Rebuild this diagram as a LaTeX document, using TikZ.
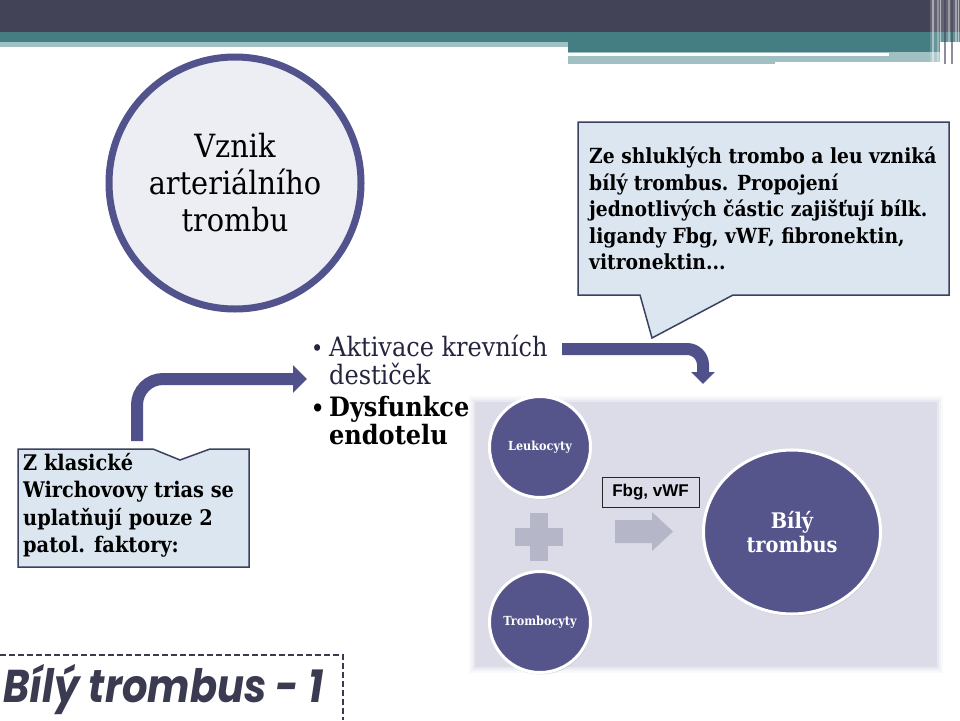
\documentclass[tikz,border=0pt]{standalone}
\usepackage{fontspec}
\setmainfont{DejaVu Serif Condensed}
\newfontfamily\geo{DejaVu Serif Condensed}
\newfontfamily\arialf{Liberation Sans}
\newfontfamily\titlef{Poppins}[FakeStretch=0.87]
\usetikzlibrary{shapes.geometric,arrows.meta,shadows}
\definecolor{hdark}{HTML}{424357}
\definecolor{hteal}{HTML}{447E82}
\definecolor{hlight}{HTML}{A0C0C4}
\definecolor{ringc}{HTML}{52528C}
\definecolor{circfill}{HTML}{EDEDF4}
\definecolor{callfill}{HTML}{DCE6F0}
\definecolor{callline}{HTML}{3B4160}
\definecolor{arrc}{HTML}{50508A}
\definecolor{panelc}{HTML}{DCDCE8}
\definecolor{nodec}{HTML}{55558C}
\definecolor{grayb}{HTML}{B6B6C9}
\definecolor{navytext}{HTML}{25253F}
\definecolor{titlec}{HTML}{3A3A50}
\newcommand{\mybul}{\makebox[18pt][l]{\fontsize{23}{23}\selectfont\textbullet}}
\tikzset{
  callout/.style={fill=callfill, draw=callline, line width=1.5pt, line join=miter},
  calltext/.style={anchor=north west, inner sep=0pt, align=left, font=\geo\bfseries\fontsize{20.8}{26.5}\selectfont, text=black},
  barrow/.style={draw=arrc, line width=12pt, -{Triangle[length=14pt,width=27pt]}},
  smallc/.style={circle, fill=nodec, draw=white, line width=3pt, minimum size=101pt, inner sep=0pt, text=white, font=\geo\bfseries\fontsize{12.5}{14}\selectfont, drop shadow={opacity=0.25, shadow xshift=1pt, shadow yshift=-2pt}},
}
\begin{document}
\begin{tikzpicture}[x=1pt,y=-1pt]
\useasboundingbox (0,0) rectangle (960,720);
\fill[white] (0,0) rectangle (960,720);
% header
\fill[hdark] (0,0) rectangle (960,32);
\fill[hteal] (0,32) rectangle (960,42);
\fill[hlight] (0,42) rectangle (568,47);
\fill[hteal] (568,42) rectangle (940,52);
\fill[hlight] (568,52) rectangle (775,64);
\fill[hlight] (775,52) rectangle (940,62);
\fill[white] (568,52.5) rectangle (889,55.5);
\fill[white,opacity=0.18] (930,0) rectangle (960,64);
\foreach \xx/\ww/\oo in {932/2/0.45, 937/1.5/0.3, 940/1/0.5, 948/2/0.35, 955/1.5/0.4, 958/1/0.5}
  \fill[white,opacity=\oo] (\xx,0) rectangle (\xx+\ww,64);
\foreach \xx/\ww in {944/1.5, 951/1.5}
  \fill[hdark,opacity=0.6] (\xx,0) rectangle (\xx+\ww,64);
% big circle
\node[circle, draw=ringc, line width=7pt, fill=circfill, minimum size=252pt, inner sep=0pt,
      align=center, font=\geo\fontsize{32}{37}\selectfont] (vznik) at (235,183) {Vznik\\arteriálního\\trombu};
% right callout
\draw[callout] (578,122) -- (949,122) -- (949,295) -- (733,295) -- (652,338) -- (640,295) -- (578,295) -- cycle;
\node[calltext] (ctext) at (589,147) {Ze shluklých trombo a leu vzniká\\bílý trombus. Propojení\\jednotlivých částic zajišťují bílk.\\ligandy Fbg, vWF, fibronektin,\\vitronektin...};
% left callout
\draw[callout] (18,449) -- (153,449) -- (180,460) -- (210,449) -- (249,449) -- (249,567) -- (18,567) -- cycle;
\node[calltext, font=\geo\bfseries\fontsize{21.5}{27.5}\selectfont] (ltext) at (23,453) {Z klasické\\Wirchovovy trias se\\uplatňují pouze 2\\patol. faktory:};
% bullets
\node[anchor=north west, inner sep=0pt, align=left, text=navytext, font=\geo\fontsize{26.7}{28}\selectfont] (akt) at (311,335)
  {\mybul Aktivace krevních\\\hphantom{\mybul}destiček};
\node[anchor=north west, inner sep=0pt, align=left, text=black, font=\geo\bfseries\fontsize{26.7}{28}\selectfont] (dys) at (311,396)
  {\mybul Dysfunkce\\\hphantom{\mybul}endotelu};
% arrows
\coordinate (la1) at (137,441);
\coordinate (la2) at (307,379);
\draw[barrow, rounded corners=26pt] (la1) |- (la2);
\coordinate (ra1) at (562,349);
\coordinate (ra2) at (703,384);
\draw[barrow, rounded corners=16pt, -{Triangle[length=12pt,width=23pt]}] (ra1) -| (ra2);
% panel
\foreach \i/\o in {6/0.15,4/0.25,2/0.4}
  \fill[panelc,opacity=\o] (475-\i,402-\i) rectangle (937+\i,667+\i);
\fill[panelc] (475,402) rectangle (937,667);
% panel content
\node[smallc] (leuko) at (540,447) {Leukocyty};
\node[smallc] (trombo) at (540,622) {Trombocyty};
\fill[grayb] (530,513) rectangle (548,561);
\fill[grayb] (515,528) rectangle (563,546);
\fill[grayb] (615,520) -- (652,520) -- (652,512) -- (673,531.5) -- (652,551) -- (652,543) -- (615,543) -- cycle;
\node[draw=black!85, line width=0.8pt, minimum width=97pt, minimum height=30pt, inner sep=0pt,
      font=\arialf\bfseries\fontsize{17}{20}\selectfont] (fbg) at (650.5,492) {Fbg, vWF};
\node[ellipse, fill=nodec, draw=white, line width=3pt, minimum width=177pt, minimum height=164pt, inner sep=0pt,
      align=center, text=white, font=\geo\bfseries\fontsize{21.5}{24}\selectfont,
      drop shadow={opacity=0.25, shadow xshift=1pt, shadow yshift=-2pt}] (bily) at (792,532) {Bílý\\trombus};
% title
\draw[titlec, line width=2pt, dash pattern=on 6pt off 3pt] (0,655) -- (343,655) -- (343,720);
\node[anchor=base west, inner sep=0pt, text=titlec, font=\titlef\bfseries\itshape\fontsize{46}{50}\selectfont] (title) at (3,702) {Bílý trombus - 1};
\end{tikzpicture}
\end{document}
